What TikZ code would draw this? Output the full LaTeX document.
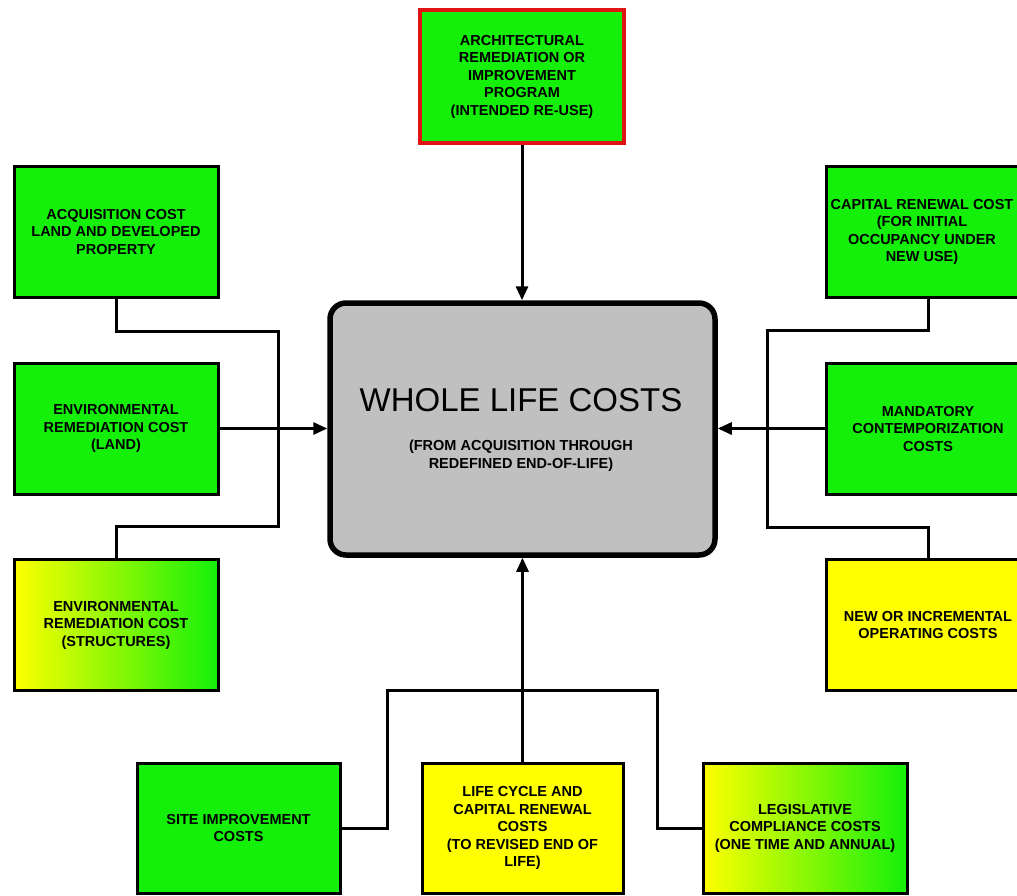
\documentclass[tikz,border=0pt]{standalone}
\usepackage{fontspec}
\setmainfont{Liberation Sans}
\usetikzlibrary{arrows.meta}
\definecolor{boxgreen}{RGB}{20,240,10}
\definecolor{boxyellow}{RGB}{255,255,0}
\definecolor{centergray}{RGB}{192,192,192}
\definecolor{topred}{RGB}{225,20,20}
\tikzset{
  boxfont/.style={font=\fontsize{14.5}{17.5}\selectfont\bfseries},
  costbox/.style={draw=black, line width=3pt, minimum width=204pt, minimum height=131pt,
    inner sep=0pt, align=center, boxfont},
  greenbox/.style={costbox, fill=boxgreen},
  yellowbox/.style={costbox, fill=boxyellow},
  mixbox/.style={costbox, left color=boxyellow, right color=boxgreen},
  link/.style={draw=black, line width=3pt},
  arr/.style={link, -{Triangle[length=14pt,width=12pt]}},
}
\begin{document}
\begin{tikzpicture}[x=1pt,y=-1pt]
\useasboundingbox (0,0) rectangle (1017,895);
\clip (0,0) rectangle (1017,895);
\fill[white] (0,0) rectangle (1017,895);

% centre
\node[draw=black, line width=5.5pt, fill=centergray, rounded corners=16pt,
  minimum width=385pt, minimum height=252pt, inner sep=0pt] (center) at (522.5,429) {};
\node[font=\fontsize{33}{36}\selectfont] (title) at (521,400) {WHOLE LIFE COSTS};
\node[font=\fontsize{14.5}{18}\selectfont\bfseries, align=center] (subtitle) at (521,456)
  {(FROM ACQUISITION THROUGH\\REDEFINED END-OF-LIFE)};

% top
\node[greenbox, draw=topred, line width=3.5pt, minimum height=133pt] (top) at (522,76.5)
  {ARCHITECTURAL\\REMEDIATION OR\\IMPROVEMENT\\PROGRAM\\(INTENDED RE-USE)};

% left column
\node[greenbox] (acq) at (116,232) {ACQUISITION COST\\LAND AND DEVELOPED\\PROPERTY};
\node[greenbox] (envl) at (116,428.5) {ENVIRONMENTAL\\REMEDIATION COST\\(LAND)};
\node[mixbox] (envs) at (116,625) {ENVIRONMENTAL\\REMEDIATION COST\\(STRUCTURES)};

% right column
\node[greenbox] (cap) at (928,232) {};
\node[boxfont, align=center, inner sep=0pt] (captext) at (922,232)
  {CAPITAL RENEWAL COST\\(FOR INITIAL\\OCCUPANCY UNDER\\NEW USE)};
\node[greenbox] (mand) at (928,428.5) {MANDATORY\\CONTEMPORIZATION\\COSTS};
\node[yellowbox] (newop) at (928,625) {NEW OR INCREMENTAL\\OPERATING COSTS};

% bottom row
\node[greenbox, minimum width=203pt, minimum height=130pt] (site) at (238.5,828) {SITE IMPROVEMENT\\COSTS};
\node[yellowbox, minimum width=201pt, minimum height=130pt] (life) at (522.5,828)
  {LIFE CYCLE AND\\CAPITAL RENEWAL\\COSTS\\(TO REVISED END OF\\LIFE)};
\node[mixbox, minimum height=130pt] (legis) at (805,828) {LEGISLATIVE\\COMPLIANCE COSTS\\(ONE TIME AND ANNUAL)};

% junction coordinates
\coordinate (lj1) at (278,331);
\coordinate (lj2) at (278,526);
\coordinate (rj1) at (767,330);
\coordinate (rj2) at (767,527);
\coordinate (bj1) at (387,690);
\coordinate (bj2) at (657,690);

% connectors
\draw[link] (acq.south) |- (lj1) -- (lj2) -| (envs.north);
\draw[link] (cap.south) |- (rj1) -- (rj2) -| (newop.north);
\draw[link] (site.east) -| (bj1) -- (bj2) |- (legis.west);
\draw[arr] (envl.east) -- (envl.east -| center.west);
\draw[arr] (mand.west) -- (mand.west -| center.east);
\draw[arr] (top.south) -- (top.south |- center.north);
\draw[arr] (life.north) -- (life.north |- center.south);
\end{tikzpicture}
\end{document}
